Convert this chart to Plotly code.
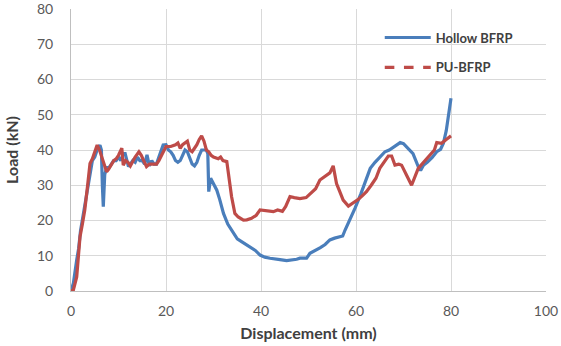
import plotly.graph_objects as go

hollow_x = [0, 0.5, 1.2, 1.6, 2, 2.5, 3, 3.5, 4, 4.5, 5, 5.5, 6.1, 6.4, 6.6, 6.8, 7.1, 7.5, 8, 8.5, 9, 9.5, 10,
            10.5, 11, 11.4, 12.1, 12.5, 13, 13.5, 14, 14.5, 15, 15.5, 16, 16.5, 17, 17.5, 18, 18.5, 19, 19.4,
            20, 20.5, 21, 21.5, 22, 22.5, 23, 23.5, 24, 24.5, 25, 25.5, 26, 26.5, 27, 27.5, 28, 28.5, 28.8,
            29, 29.4, 29.8, 30.7, 31.3, 32.1, 33, 34.2, 35, 35.9, 36.8, 37.7, 38.8, 39.8, 40.8, 41.9, 43,
            44, 45.4, 46.5, 47.5, 48.2, 49.6, 50.3, 51.5, 52.5, 53.5, 54.5, 55.5, 56.6, 57.2, 57.7, 58.8,
            59.8, 61, 62, 63, 64, 65, 66.1, 67, 68, 69.3, 70, 71, 72, 73.1, 73.6, 74.2, 75, 76, 77, 77.8,
            78.4, 79, 79.5, 80]
hollow_y = [0, 2.2, 8.8, 12, 17, 21, 26, 30, 34, 37, 38, 40, 41.4, 40, 30, 23.9, 33, 35, 35, 36, 37, 37, 38,
            37, 39, 39, 35.3, 36, 37, 36.5, 38, 37, 37, 36, 38.6, 35.5, 37, 36, 36, 38, 40, 41.4,
            41.5, 40, 39.5, 38.5, 37, 36.5, 37, 38.5, 40, 39.5, 37.5, 36, 35.5, 36.5, 38.5, 40, 40, 40, 39,
            28.2, 32, 31, 28.6, 26, 22, 19, 16.4, 14.8, 14, 13.2, 12.6, 11.5, 10.2, 9.6, 9.3, 9,
            8.9, 8.6, 8.7, 9, 9.3, 9.3, 10.7, 11.5, 12.3, 13.2, 14.5, 15, 15.4, 15.6, 17.3, 20.5,
            23.5, 27.5, 31.5, 34.8, 36.5, 37.8, 39.5, 40, 40.8, 42.1, 41.8, 40.5, 39, 35.3, 34.2, 35.7, 36.5, 37.8, 39.5, 40.2,
            41.9, 45.5, 50, 54.7]

pu_x = [0, 0.5, 1.2, 1.5, 1.9, 2.4, 2.9, 3.5, 4, 4.5, 5, 5.5, 6, 6.5, 7, 7.5, 7.9, 8.5, 9, 9.5, 10, 10.7,
        11, 11.5, 12, 12.5, 13, 13.5, 14.3, 14.8, 15.3, 15.9, 16.5, 17, 18, 18.5, 19, 19.5, 20, 21, 22,
        22.5, 23, 23.5, 24, 24.5, 25, 25.5, 26, 26.5, 27, 27.5, 28, 28.5, 29, 29.5, 30, 31, 31.5, 32,
        32.8, 33.3, 33.8, 34.5, 35.2, 36.3, 37, 38, 39, 39.8, 41, 42.6, 43.5, 44.5, 45.2, 46.1, 47, 48.2,
        49.5, 50.5, 51.5, 52.4, 53.8, 54.5, 55.2, 55.9, 56.5, 57.3, 58.4, 59.4, 60.5, 61.3, 62.2, 63.2, 64.2,
        65, 65.8, 66.8, 67.5, 68.2, 69, 69.6, 70.6, 71.7, 73.1, 74.4, 75.6, 76.5, 77, 78, 79, 80]
pu_y = [0, 0.3, 4, 10, 15.4, 19, 23, 30, 36.2, 37.5, 39.5, 41.4, 40, 38, 36.5, 33.8, 34.5, 36, 37, 37.5, 38.5, 40.5,
        35.7, 37, 36.5, 35.5, 37, 38, 39.5, 38.5, 37, 35.3, 36, 36, 36, 37, 38.5, 40, 41, 41, 41.5,
        42, 40.5, 41.5, 42, 42.5, 40, 39.5, 40.5, 41.5, 43, 44, 42.5, 40, 39.5, 38.5, 38, 37.5, 38, 37,
        36.7, 32, 26.8, 22, 21, 20.1, 20.2, 20.6, 21.5, 23, 22.8, 22.5, 23, 22.6, 24, 26.8, 26.5, 26.2,
        26.5, 27.8, 29, 31.5, 32.9, 33.5, 35.5, 30.5, 28.5, 25.8, 24.1, 24.9, 26, 27, 28.2, 30, 32,
        34.8, 36.5, 38.3, 38.3, 35.7, 36, 35.7, 33, 30, 34.8, 36.8, 38.6, 40, 42.1, 41.9, 43, 44]

x_ticks = [0, 20, 40, 60, 80, 100]
y_ticks = [0, 10, 20, 30, 40, 50, 60, 70, 80]

blue = "#4A7EBB"
red = "#BE4B48"
font_family = "Lato, 'Open Sans', sans-serif"

fig = go.Figure()
fig.add_trace(go.Scatter(x=hollow_x, y=hollow_y, mode="lines", name="Hollow BFRP",
                         line=dict(color=blue, width=3.2), legendgroup="a"))
fig.add_trace(go.Scatter(x=pu_x, y=pu_y, mode="lines", name="PU-BFRP",
                         line=dict(color=red, width=3.2), showlegend=False))
fig.add_trace(go.Scatter(x=[None], y=[None], mode="lines", name="PU-BFRP",
                         line=dict(color=red, width=3.2, dash="dash"), legendgroup="b"))

fig.update_layout(
    width=561, height=346,
    margin=dict(l=71, r=15, t=9, b=55),
    paper_bgcolor="white", plot_bgcolor="white",
    font=dict(family=font_family, size=14, color="#595959"),
    showlegend=True,
    legend=dict(x=0.65, y=0.952, xanchor="left", yanchor="top",
                bgcolor="rgba(0,0,0,0)", tracegroupgap=10, itemwidth=46,
                font=dict(family=font_family, size=13, color="#404040", weight="bold")),
)
fig.update_xaxes(range=[0, 100], tickvals=x_ticks, showgrid=True, gridcolor="#D9D9D9", gridwidth=1,
                 zeroline=False, showline=True, linecolor="#BFBFBF", ticks="",
                 automargin=False, ticklabeloverflow="allow", ticklabelstandoff=7,
                 tickfont=dict(size=14, color="#595959"),
                 title=dict(text="Displacement (mm)", standoff=10,
                            font=dict(size=16, color="#404040", weight="bold")))
fig.update_yaxes(range=[0, 80], tickvals=y_ticks, showgrid=True, gridcolor="#D9D9D9", gridwidth=1,
                 zeroline=False, showline=True, linecolor="#BFBFBF", ticks="",
                 automargin=False, ticklabeloverflow="allow", ticklabelstandoff=14,
                 tickfont=dict(size=14, color="#595959"),
                 title=dict(text="Load (kN)", standoff=14,
                            font=dict(size=16, color="#404040", weight="bold")))

fig.write_html("out.html", config={"displayModeBar": False},
               post_script="document.body.style.margin='0';document.body.style.padding='0';")
